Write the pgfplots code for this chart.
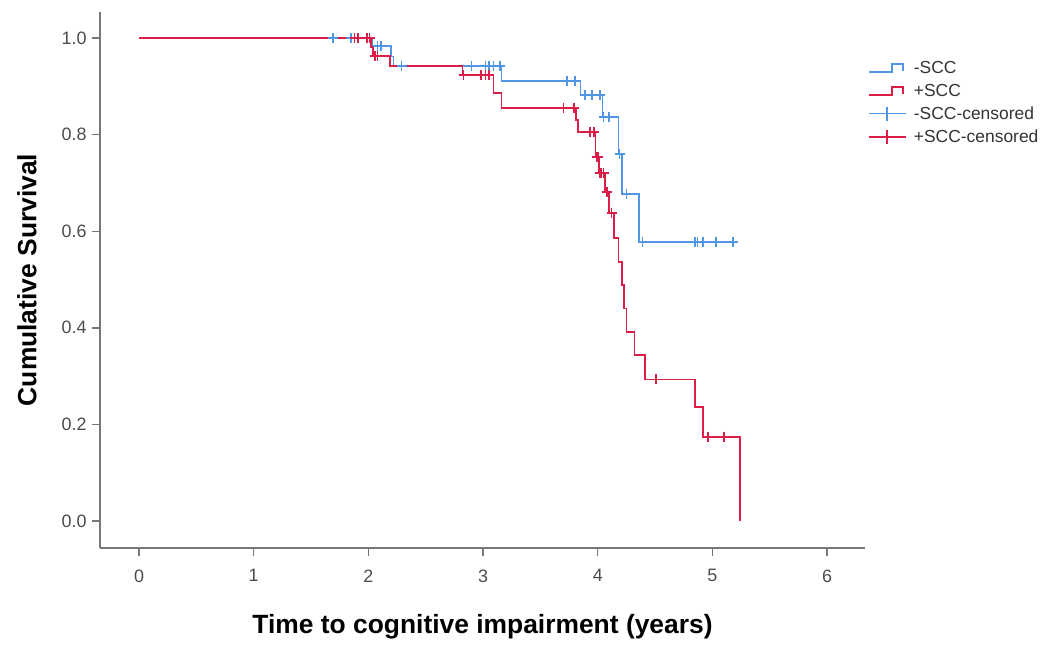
\documentclass[border=0pt]{standalone}
\usepackage{fontspec}
\setmainfont{Liberation Sans}
\usepackage{pgfplots}
\pgfplotsset{compat=1.18}
\definecolor{cblue}{RGB}{80,150,228}
\definecolor{cred}{RGB}{218,30,72}
\definecolor{axgray}{RGB}{120,120,120}

\pgfplotstableread{
x y
0 1
2.03 0.983
2.20 0.962
2.22 0.942
3.16 0.911
3.85 0.882
4.04 0.836
4.18 0.760
4.21 0.677
4.36 0.578
5.18 0.578
}\bluesteps

\pgfplotstableread{
x y
0 1
2.02 0.981
2.04 0.963
2.19 0.942
2.82 0.923
3.09 0.886
3.16 0.855
3.81 0.830
3.83 0.805
3.98 0.754
4.01 0.720
4.06 0.681
4.10 0.638
4.14 0.586
4.18 0.536
4.21 0.489
4.23 0.440
4.25 0.391
4.32 0.344
4.41 0.293
4.85 0.236
4.92 0.174
5.24 0.000
}\redsteps

\pgfplotstableread{
x y
1.69 1
1.85 1
1.88 1
2.08 0.983
2.11 0.983
2.29 0.942
2.90 0.942
3.02 0.942
3.05 0.942
3.09 0.942
3.15 0.942
3.73 0.911
3.80 0.911
3.89 0.882
3.95 0.882
4.02 0.882
4.05 0.836
4.10 0.836
4.19 0.760
4.25 0.677
4.39 0.578
4.85 0.578
4.87 0.578
4.92 0.578
5.03 0.578
5.18 0.578
}\bluecens

\pgfplotstableread{
x y
1.88 1
1.91 1
1.99 1
2.01 1
2.06 0.963
2.08 0.963
2.83 0.923
2.98 0.923
3.02 0.923
3.05 0.923
3.70 0.855
3.79 0.855
3.93 0.805
3.97 0.805
3.99 0.754
4.00 0.754
4.02 0.720
4.03 0.720
4.05 0.720
4.08 0.681
4.12 0.638
4.51 0.293
4.96 0.174
5.10 0.174
}\redcens

\begin{document}
\begin{tikzpicture}
\path[use as bounding box] (-100bp,-100bp) rectangle (950bp,548bp);
\begin{axis}[
  at={(0,0)}, anchor=south west,
  scale only axis, width=765bp, height=536bp,
  xmin=-0.34, xmax=6.33, ymin=-0.056, ymax=1.054,
  axis x line*=bottom, axis y line*=left,
  axis line style={-, axgray, line width=1.4bp},
  every tick/.style={axgray, line width=1.4bp},
  tick align=outside, major tick length=8bp,
  xtick={0,1,2,3,4,5,6}, ytick={0,0.2,0.4,0.6,0.8,1.0},
  /pgf/number format/assume math mode=true,
  y tick label style={/pgf/number format/fixed, /pgf/number format/fixed zerofill, /pgf/number format/precision=1, xshift=-2bp},
  x tick label style={yshift=-10bp},
  tick label style={font=\fontsize{18}{20}\selectfont, text=black!70},
  xlabel={Time to cognitive impairment (years)},
  ylabel={Cumulative Survival},
  label style={font=\bfseries\fontsize{26.5}{30}\selectfont, text=black},
  xlabel style={at={(rel axis cs:0.5,0)}, anchor=center, yshift=-79bp},
  ylabel style={at={([xshift=-73bp]rel axis cs:0,0.5)}, anchor=center},
  legend cell align=left,
  legend style={at={(rel axis cs:1,1)}, anchor=north west, xshift=3bp, yshift=-48bp,
    draw=none, fill=none, inner sep=0pt, row sep=7bp, column sep=6bp,
    font=\fontsize{17.5}{19}\selectfont, text=black!80, nodes={inner sep=1bp}},
  clip=false,
]
\addplot[const plot, cblue, line width=1.7bp, mark=none,
  legend image code/.code={\draw[cblue, line width=1.7bp] (0bp,-4bp)--(23bp,-4bp)--(23bp,4bp)--(34bp,4bp)--(34bp,-3bp);}]
  table[x=x,y=y] {\bluesteps};
\addlegendentry{-SCC}
\addplot[const plot, cred, line width=1.7bp, mark=none,
  legend image code/.code={\draw[cred, line width=1.7bp] (0bp,-4bp)--(23bp,-4bp)--(23bp,4bp)--(34bp,4bp)--(34bp,-3bp);}]
  table[x=x,y=y] {\redsteps};
\addlegendentry{+SCC}
\addplot[only marks, mark=+, mark size=5bp, cblue, line width=1.7bp,
  legend image code/.code={\draw[cblue, line width=1.7bp] (0bp,0bp)--(37bp,0bp); \draw[cblue, line width=1.7bp] (18bp,-7bp)--(18bp,7bp);}]
  table[x=x,y=y] {\bluecens};
\addlegendentry{-SCC-censored}
\addplot[only marks, mark=+, mark size=5bp, cred, line width=1.7bp,
  legend image code/.code={\draw[cred, line width=1.7bp] (0bp,0bp)--(37bp,0bp); \draw[cred, line width=1.7bp] (18bp,-7bp)--(18bp,7bp);}]
  table[x=x,y=y] {\redcens};
\addlegendentry{+SCC-censored}
\end{axis}
\end{tikzpicture}
\end{document}
